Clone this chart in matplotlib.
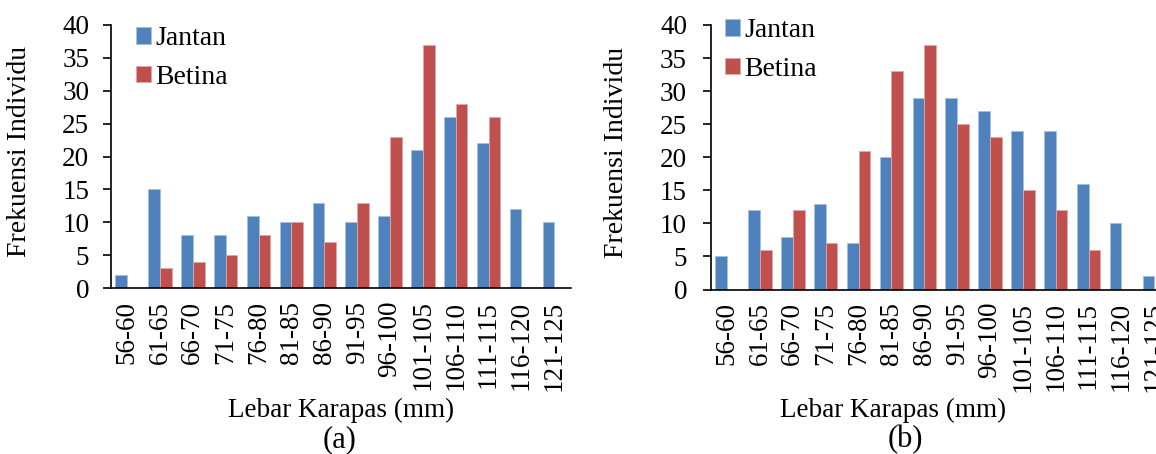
import matplotlib
matplotlib.use("Agg")
import matplotlib.pyplot as plt
import numpy as np

categories = ["56-60", "61-65", "66-70", "71-75", "76-80", "81-85", "86-90",
              "91-95", "96-100", "101-105", "106-110", "111-115", "116-120", "121-125"]
jantan_a = [2, 15, 8, 8, 11, 10, 13, 10, 11, 21, 26, 22, 12, 10]
betina_a = [0, 3, 4, 5, 8, 10, 7, 13, 23, 37, 28, 26, 0, 0]
jantan_b = [5, 12, 8, 13, 7, 20, 29, 29, 27, 24, 24, 16, 10, 2]
betina_b = [0, 6, 12, 7, 21, 33, 37, 25, 23, 15, 12, 6, 0, 0]
yticks = [0, 5, 10, 15, 20, 25, 30, 35, 40]

BLUE = "#4F81BD"
RED = "#C0504D"
FONT = ["Liberation Serif", "DejaVu Serif"]
plt.rcParams["font.family"] = FONT

W, H = 1156, 454
fig = plt.figure(figsize=(W / 100, H / 100), dpi=100)

def px_axes(x0, y_top, x1, y_bot):
    return [x0 / W, (H - y_bot) / H, (x1 - x0) / W, (y_bot - y_top) / H]

def draw(ax, jantan, betina, ypad):
    x = np.arange(len(categories))
    w = 0.356
    ax.bar(x - w / 2, jantan, w, color=BLUE, edgecolor="#A7C0DE", linewidth=0.6, label="Jantan")
    ax.bar(x + w / 2, betina, w, color=RED, edgecolor="#E0A8A6", linewidth=0.6, label="Betina")
    ax.set_xlim(-0.5, len(categories) - 0.5)
    ax.set_ylim(0, 40)
    ax.set_yticks(yticks)
    ax.set_xticks(x)
    ax.set_xticklabels(categories, rotation=90)
    for s in ("top", "right"):
        ax.spines[s].set_visible(False)
    for s in ("left", "bottom"):
        ax.spines[s].set_linewidth(1.2)
    ax.tick_params(axis="y", direction="out", length=5.5, width=1.2, pad=ypad, labelsize=19.5)
    ax.tick_params(axis="x", length=0, pad=9, labelsize=19.5)
    ax.set_ylabel("Frekuensi Individu", fontsize=20)

ax1 = fig.add_axes(px_axes(110.7, 25, 570.7, 288))
draw(ax1, jantan_a, betina_a, 10)
ax1.yaxis.set_label_coords(-0.172, 0.52)

ax2 = fig.add_axes(px_axes(710.7, 25, 1170.7, 289.5))
draw(ax2, jantan_b, betina_b, 11.5)
ax2.yaxis.set_label_coords(-0.178, 0.52)

legkw = dict(loc="upper left", frameon=False, fontsize=20, handlelength=0.55,
             handleheight=0.55, handletextpad=0.15, labelspacing=0.5,
             borderpad=0, borderaxespad=0)
h, l = ax1.get_legend_handles_labels()
fig.legend(h, l, bbox_to_anchor=(136 / W, 1 - 26 / H), **legkw)
h, l = ax2.get_legend_handles_labels()
fig.legend(h, l, bbox_to_anchor=(725 / W, 1 - 18 / H), **legkw)

fig.text(341 / W, 1 - 410 / H, "Lebar Karapas (mm)", ha="center", va="center", fontsize=19.5)
fig.text(340 / W, 1 - 440 / H, "(a)", ha="center", va="center", fontsize=22)
fig.text(893 / W, 1 - 410 / H, "Lebar Karapas (mm)", ha="center", va="center", fontsize=19.5)
fig.text(905 / W, 1 - 440 / H, "(b)", ha="center", va="center", fontsize=22)

fig.savefig("out.png", dpi=100)
